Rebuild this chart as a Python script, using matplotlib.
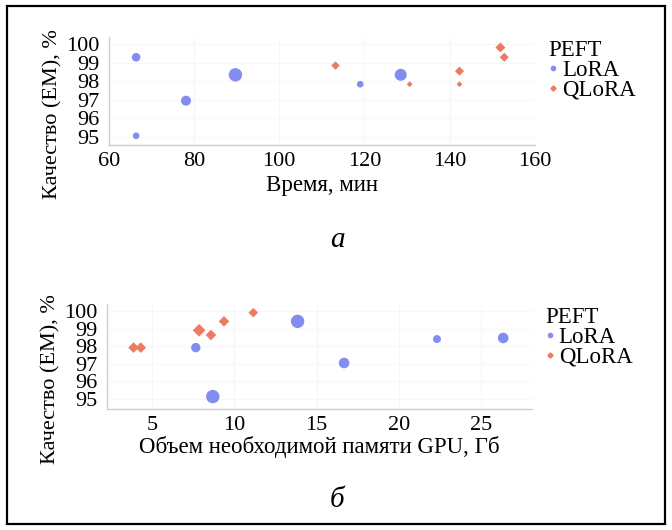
import matplotlib
matplotlib.use("Agg")
import matplotlib.pyplot as plt
from matplotlib.lines import Line2D
from matplotlib.patches import Rectangle

# ---- data ----
# (a) time vs quality
time_lora = [66.4, 66.4, 78.1, 89.7, 119.0, 128.5]
em_time_lora = [99.31, 95.06, 96.96, 98.36, 97.85, 98.36]
bubble_time_lora = [4.3, 3.3, 5.0, 6.7, 3.3, 6.0]

time_qlora = [113.2, 130.6, 142.3, 142.3, 151.9, 152.8]
em_time_qlora = [98.86, 97.85, 98.56, 97.85, 99.84, 99.31]
bubble_time_qlora = [4.0, 2.7, 4.3, 2.7, 4.7, 4.3]

# (б) GPU memory vs quality
mem_lora = [7.67, 8.70, 13.85, 16.67, 22.31, 26.33]
em_mem_lora = [97.91, 95.11, 99.41, 97.03, 98.40, 98.46]
bubble_mem_lora = [4.7, 6.7, 6.7, 5.3, 4.0, 5.3]

mem_qlora = [3.89, 4.33, 7.87, 8.59, 9.38, 11.16]
em_mem_qlora = [97.91, 97.91, 98.90, 98.63, 99.41, 99.91]
bubble_mem_qlora = [5.0, 5.0, 6.0, 5.0, 5.0, 4.5]

y_ticks = [95, 96, 97, 98, 99, 100]
time_ticks = [60, 80, 100, 120, 140, 160]
mem_ticks = [5, 10, 15, 20, 25]

C_LORA = "#838df0"
C_QLORA = "#ee7a60"

plt.rcParams["font.family"] = ["Liberation Serif", "DejaVu Serif"]


def area(radii_px, k=1.0):
    # radius in px (dpi 100) -> scatter area in pt^2
    return [(2 * r * 0.72 * k) ** 2 for r in radii_px]


def style(ax):
    for side in ("top", "right"):
        ax.spines[side].set_visible(False)
    for side in ("left", "bottom"):
        ax.spines[side].set_color("#cfcfcf")
        ax.spines[side].set_linewidth(1.0)
    ax.tick_params(length=0, labelsize=16, pad=5)
    ax.tick_params(axis="y", pad=7)
    ax.set_yticks(y_ticks)
    ax.grid(True, color="#f7f7f7", lw=0.8)
    ax.set_axisbelow(True)
    ax.set_ylabel("Качество (ЕМ), %", fontsize=16)
    ax.yaxis.set_label_coords(-0.108, 0.29)
    handles = [
        Line2D([], [], ls="none", marker="o", ms=3, color=C_LORA, label="LoRA"),
        Line2D([], [], ls="none", marker="D", ms=2.6, color=C_QLORA, label="QLoRA"),
    ]
    leg = ax.legend(handles=handles, title="PEFT", loc="upper left",
                    bbox_to_anchor=(1.01, 1.06), frameon=False, fontsize=16.5,
                    title_fontsize=16.5, handlelength=0.4, handletextpad=0.2,
                    labelspacing=-0.05, borderaxespad=0.2, borderpad=0.2)
    leg._legend_box.align = "left"


fig = plt.figure(figsize=(6.72, 5.30), dpi=100)

ax1 = fig.add_axes([0.162, 0.726, 0.634, 0.204])
ax1.scatter(time_lora, em_time_lora, s=area(bubble_time_lora), color=C_LORA,
            marker="o", lw=0, zorder=3)
ax1.scatter(time_qlora, em_time_qlora, s=area(bubble_time_qlora, 0.75),
            color=C_QLORA, marker="D", lw=0, zorder=3)
ax1.set_xlim(60, 160)
ax1.set_ylim(94.55, 100.4)
ax1.set_xticks(time_ticks)
style(ax1)
ax1.set_xlabel("Время, мин", fontsize=16.5, labelpad=3)

ax2 = fig.add_axes([0.159, 0.2283, 0.632, 0.198])
ax2.scatter(mem_lora, em_mem_lora, s=area(bubble_mem_lora), color=C_LORA,
            marker="o", lw=0, zorder=3)
ax2.scatter(mem_qlora, em_mem_qlora, s=area(bubble_mem_qlora, 0.75),
            color=C_QLORA, marker="D", lw=0, zorder=3)
ax2.set_xlim(2.27, 28.05)
ax2.set_ylim(94.4, 100.4)
ax2.set_xticks(mem_ticks)
style(ax2)
ax2.set_xlabel("Объем необходимой памяти GPU, Гб", fontsize=16.5, labelpad=1)

fig.text(337 / 672, 1 - 240 / 530, "а", ha="center", va="center",
         fontsize=21, style="italic")
fig.text(337 / 672, 1 - 500 / 530, "б", ha="center", va="center",
         fontsize=21, style="italic")

# outer frame
fig.patches.append(Rectangle((7 / 672, 6 / 530), 658 / 672, 518 / 530,
                             transform=fig.transFigure, fill=False,
                             ec="black", lw=1.6))

fig.savefig("out.png", dpi=100)
